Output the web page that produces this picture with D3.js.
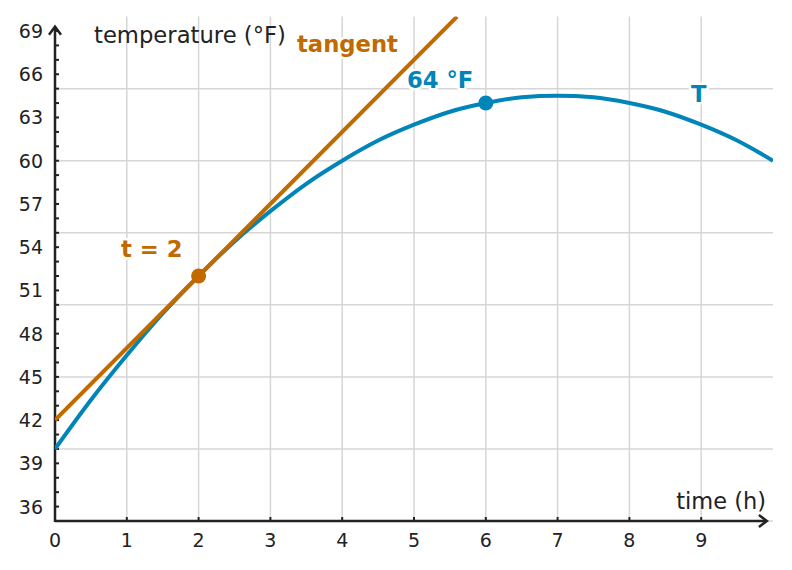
<!DOCTYPE html>
<html><head><meta charset="utf-8">
<script src="https://cdn.jsdelivr.net/npm/d3@7"></script>
<style>body{margin:0;background:#fff}svg{display:block}text{font-family:"DejaVu Sans",sans-serif}</style>
</head><body><svg id="c" width="792" height="570"></svg>
<script>
// Data
const curveT = [0,0.5,1,1.5,2,2.5,3,3.5,4,4.5,5,5.5,6,6.5,7,7.5,8,8.5,9,9.5,10];
const curveTemp = [40,43.4,46.5,49.4,52,54.4,56.5,58.4,60,61.4,62.5,63.4,64,64.4,64.5,64.4,64,63.4,62.5,61.4,60];
const tangentT = [0,5.6];
const tangentTemp = [42,70];
const pointT = [2,6];
const pointTemp = [52,64];
const xTicks = [0,1,2,3,4,5,6,7,8,9];
const yTickLabels = [36,39,42,45,48,51,54,57,60,63,66,69];
const yMinor = d3.range(36,70,1);
const xGrid = [1,2,3,4,5,6,7,8,9];
const yGrid = [35,40,45,50,55,60,65];

const BLUE="#0085b9", ORANGE="#c06a00", INK="#222";
const svg=d3.select("#c");
const x=d3.scaleLinear().domain([0,10]).range([55,773]);
const y=d3.scaleLinear().domain([35,70]).range([521,16.6]);

svg.append("defs").append("clipPath").attr("id","clip").append("rect")
  .attr("x",55).attr("y",y(70)).attr("width",x(10)-55).attr("height",y(35)-y(70));

const g=svg.append("g");
g.selectAll(".vg").data(xGrid).join("line").attr("x1",d=>x(d)).attr("x2",d=>x(d))
  .attr("y1",y(70)).attr("y2",y(35)).attr("stroke","#d6d6d6").attr("stroke-width",1.5);
g.selectAll(".hg").data(yGrid).join("line").attr("x1",x(0)).attr("x2",x(10))
  .attr("y1",d=>y(d)).attr("y2",d=>y(d)).attr("stroke","#d6d6d6").attr("stroke-width",1.5);

// axes
const axC=svg.append("g");
const xEnd=x(9.915), yEnd=y(69.3);
axC.append("line").attr("x1",x(0)).attr("x2",xEnd-1).attr("y1",y(35)).attr("y2",y(35)).attr("stroke",INK).attr("stroke-width",2.5);
axC.append("path").attr("d",`M${xEnd-8},${y(35)-6} L${xEnd},${y(35)} L${xEnd-8},${y(35)+6}`).attr("fill","none").attr("stroke",INK).attr("stroke-width",2.5);
axC.append("line").attr("x1",x(0)).attr("x2",x(0)).attr("y1",y(35)+1).attr("y2",yEnd+1).attr("stroke",INK).attr("stroke-width",2.5);
axC.append("path").attr("d",`M${x(0)-6},${yEnd+8} L${x(0)},${yEnd} L${x(0)+6},${yEnd+8}`).attr("fill","none").attr("stroke",INK).attr("stroke-width",2.5);

axC.selectAll(".ym").data(yMinor).join("line").attr("x1",x(0)).attr("x2",x(0)+4)
  .attr("y1",d=>y(d)).attr("y2",d=>y(d)).attr("stroke",INK).attr("stroke-width",2);
axC.selectAll(".yl").data(yTickLabels).join("text").attr("x",43).attr("y",d=>y(d)+7)
  .attr("text-anchor","end").attr("font-size",19).attr("fill",INK).text(d=>d);
axC.selectAll(".xt").data(xTicks.filter(d=>d>0)).join("line").attr("x1",d=>x(d)).attr("x2",d=>x(d))
  .attr("y1",y(35)).attr("y2",y(35)-4).attr("stroke",INK).attr("stroke-width",2);
axC.selectAll(".xl").data(xTicks).join("text").attr("x",d=>x(d)).attr("y",547)
  .attr("text-anchor","middle").attr("font-size",19).attr("fill",INK).text(d=>d);
axC.append("text").attr("x",94).attr("y",43).attr("font-size",22.7).attr("fill",INK).text("temperature (°F)");
axC.append("text").attr("x",766).attr("y",509).attr("text-anchor","end").attr("font-size",22.5).attr("fill",INK).text("time (h)");

const line=d3.line().x(d=>x(d[0])).y(d=>y(d[1]));
const pl=svg.append("g").attr("clip-path","url(#clip)");
pl.append("path").datum(curveT.map((t,i)=>[t,curveTemp[i]])).attr("d",line.curve(d3.curveMonotoneX))
  .attr("fill","none").attr("stroke",BLUE).attr("stroke-width",4);
pl.append("path").datum(tangentT.map((t,i)=>[t,tangentTemp[i]])).attr("d",d3.line().x(d=>x(d[0])).y(d=>y(d[1])))
  .attr("fill","none").attr("stroke",ORANGE).attr("stroke-width",4);

svg.append("circle").attr("cx",x(pointT[0])).attr("cy",y(pointTemp[0])).attr("r",7.5).attr("fill",ORANGE);
svg.append("circle").attr("cx",x(pointT[1])).attr("cy",y(pointTemp[1])).attr("r",7.5).attr("fill",BLUE);

function lab(tx,xx,yy,col){
  svg.append("text").attr("x",xx).attr("y",yy).attr("font-size",22.7).attr("font-weight","bold")
    .attr("fill",col).attr("stroke","#fff").attr("stroke-width",5).attr("stroke-linejoin","round")
    .attr("paint-order","stroke").text(tx);
}
lab("tangent",297,52,ORANGE);
lab("64 °F",407,88,BLUE);
lab("t = 2",121,257,ORANGE);
lab("T",691,102,BLUE);
</script></body></html>
